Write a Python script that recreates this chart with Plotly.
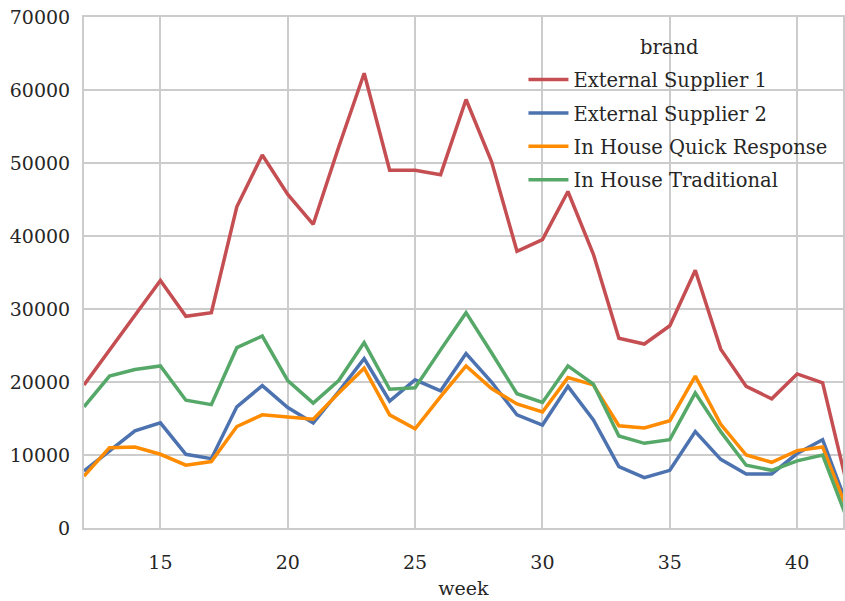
import plotly.graph_objects as go

# Weekly volume per brand
weeks = list(range(12, 43))
external_supplier_1 = [19600, 24400, 29000, 33900, 29000, 29500, 44000, 51100, 45700, 41600,
                       52200, 62300, 49000, 49000, 48400, 58700, 50200, 37900, 39500, 46100,
                       37500, 26000, 25200, 27700, 35300, 24500, 19400, 17700, 21100, 19900, 5300]
external_supplier_2 = [7800, 10500, 13300, 14400, 10100, 9500, 16600, 19500, 16500, 14400,
                       18700, 23200, 17400, 20300, 18800, 23900, 20000, 15500, 14100, 19400,
                       14800, 8400, 6900, 7900, 13200, 9400, 7400, 7400, 10200, 12100, 2800]
in_house_quick = [7100, 11000, 11100, 10100, 8600, 9100, 13900, 15500, 15200, 14900,
                  18500, 21900, 15500, 13600, 18000, 22200, 19100, 17000, 15900, 20600,
                  19600, 14000, 13700, 14700, 20800, 14200, 10000, 9000, 10600, 11100, 2200]
in_house_traditional = [16600, 20800, 21700, 22200, 17500, 16900, 24700, 26300, 20200, 17100,
                        20200, 25400, 19000, 19200, 24400, 29500, 24000, 18400, 17200, 22200,
                        19700, 12600, 11600, 12100, 18500, 13200, 8600, 7900, 9200, 10000, 900]

brands = ["External Supplier 1", "External Supplier 2",
          "In House Quick Response", "In House Traditional"]
series = [external_supplier_1, external_supplier_2, in_house_quick, in_house_traditional]
colors = ["#C44E52", "#4C72B0", "#FF8C00", "#55A868"]

x_ticks = [15, 20, 25, 30, 35, 40]
y_ticks = list(range(0, 70001, 10000))

FONT = "DejaVu Serif"
TEXT = "#262626"
GRID = "#CCCCCC"

fig = go.Figure()
for name, vals, col in zip(brands, series, colors):
    fig.add_trace(go.Scatter(
        x=weeks, y=vals, name=name, mode="lines",
        line=dict(color=col, width=3.5),
        legendgroup=name,
    ))

# Legend heading, centred over the legend entries
fig.add_annotation(
    text="brand", xref="paper", yref="paper",
    x=0.771, y=0.941, xanchor="center", yanchor="middle",
    showarrow=False, font=dict(family=FONT, size=19.5, color=TEXT),
)

fig.update_layout(
    width=845, height=601,
    margin=dict(l=84, r=0, t=17, b=73),
    paper_bgcolor="white", plot_bgcolor="white",
    font=dict(family=FONT, size=19, color=TEXT),
    showlegend=True,
    legend=dict(
        x=0.579, y=0.915, xanchor="left", yanchor="top",
        bgcolor="rgba(0,0,0,0)", borderwidth=0,
        font=dict(family=FONT, size=19.5, color=TEXT),
        tracegroupgap=5,
        itemwidth=40,
    ),
    xaxis=dict(
        range=[12, 41.8],
        tickvals=x_ticks,
        title=dict(text="week", font=dict(family=FONT, size=19, color=TEXT), standoff=10),
        showgrid=True, gridcolor=GRID, gridwidth=2,
        showline=True, linecolor=GRID, linewidth=2, mirror=True,
        zeroline=False, ticks="outside", ticklen=16, tickcolor="rgba(0,0,0,0)",
        tickfont=dict(family=FONT, size=19, color=TEXT),
    ),
    yaxis=dict(
        range=[0, 70000],
        tickvals=y_ticks,
        tickformat="d",
        showgrid=True, gridcolor=GRID, gridwidth=2,
        showline=True, linecolor=GRID, linewidth=2, mirror=True,
        zeroline=False, ticks="outside", ticklen=8, tickcolor="rgba(0,0,0,0)",
        tickfont=dict(family=FONT, size=19, color=TEXT),
    ),
)

fig.write_html("out.html")
